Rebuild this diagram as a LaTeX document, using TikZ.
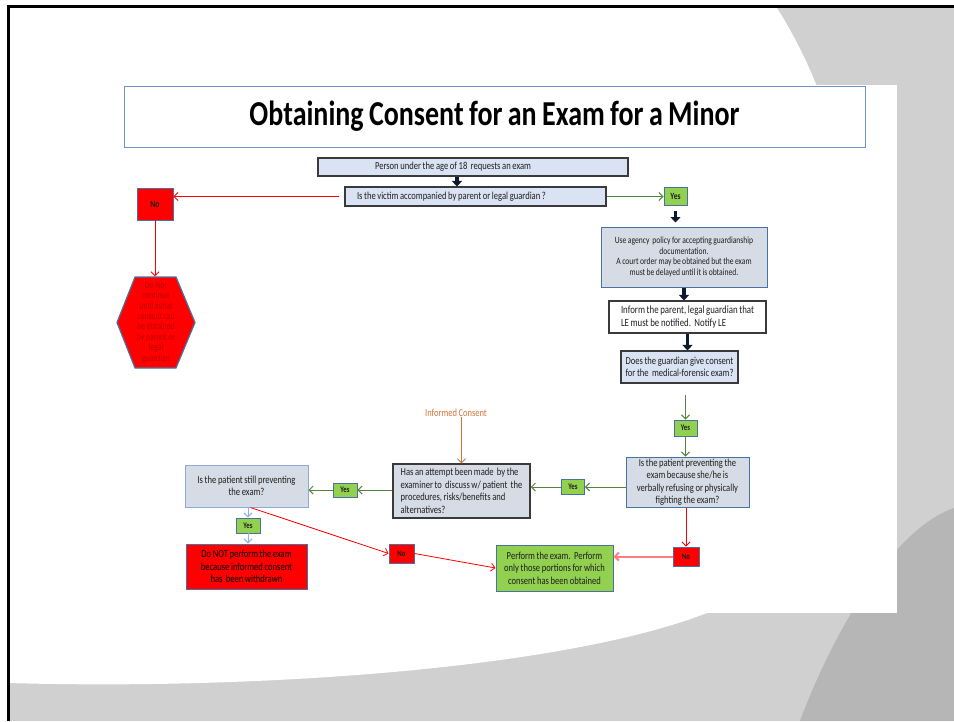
\documentclass[tikz,border=0pt]{standalone}
\usepackage{fontspec}
\setmainfont{Carlito}[FakeStretch=0.8, WordSpace=0.85]
\usetikzlibrary{arrows.meta}

\definecolor{greylight}{HTML}{D0D0D0}
\definecolor{greydark}{HTML}{B6B6B6}
\definecolor{inktext}{HTML}{1E1E1E}
\definecolor{palefill}{HTML}{DAE3F3}
\definecolor{slatefill}{HTML}{D6DCE5}
\definecolor{edgedark}{HTML}{3A3A3A}
\definecolor{edgeblue}{HTML}{4A72A0}
\definecolor{edgesky}{HTML}{8EAADB}
\definecolor{titleedge}{HTML}{6F92BF}
\definecolor{yesgreen}{HTML}{92D050}
\definecolor{nored}{HTML}{FF0000}
\definecolor{hextext}{HTML}{C00000}
\definecolor{linegreen}{HTML}{55853A}
\definecolor{linesky}{HTML}{8DB3E2}
\definecolor{linepink}{HTML}{FF7C80}
\definecolor{lineorange}{HTML}{D0743C}
\definecolor{blockink}{HTML}{0B1A2E}

\tikzset{
  flow/.style={rectangle, inner sep=0pt, text=inktext,
    font=\fontsize{10.7}{12.5}\selectfont},
  pale/.style={flow, fill=palefill, draw=edgedark, line width=1.1pt},
  slate/.style={flow, fill=slatefill, draw=edgeblue, line width=1pt},
  yesbox/.style={rectangle, inner sep=0pt, fill=yesgreen, draw=edgeblue,
    line width=0.9pt, text=inktext, font=\bfseries\fontsize{8.5}{9}\selectfont},
  nobox/.style={rectangle, inner sep=0pt, fill=nored, draw=edgeblue,
    line width=0.9pt, text=inktext, font=\bfseries\fontsize{8.5}{9}\selectfont},
  barb/.style={-{Straight Barb[length=4pt,width=8pt]}},
  greenln/.style={barb, draw=linegreen, line width=1pt},
  redln/.style={barb, draw=red, line width=0.8pt},
  skyln/.style={barb, draw=linesky, line width=1pt},
  blockarrow/.style={draw=blockink, line width=3.5pt,
    -{Triangle[length=5.5pt,width=10pt]}},
}

\begin{document}
\begin{tikzpicture}[x=1pt,y=-1pt]
\useasboundingbox (0,0) rectangle (954,721);

% slide background with its grey sweeps
\fill[white] (0,0) rectangle (954,721);
\fill[greylight] (8,8) rectangle (954,721);
\fill[white] (8,8) -- (777,8) .. controls (880,170) and (905,450) .. (707,613)
  .. controls (560,670) and (250,690) .. (8,683) -- cycle;
\fill[greydark] (954,508) .. controls (890,530) and (830,640) .. (800,721)
  -- (954,721) -- cycle;
\fill[white] (100,85) rectangle (897,613);
\draw[line width=3pt, black] (8.5,721) -- (8.5,6.5) -- (954,6.5);

% title
\node[rectangle, draw=titleedge, line width=1pt, fill=white,
  minimum width=741pt, minimum height=61pt, text=black,
  font=\bfseries\fontsize{35}{40}\selectfont] (title) at (494.5,116.5)
  {Obtaining Consent for an Exam for a Minor};

% top of the chart
\node[pale, minimum height=18pt, inner xsep=57pt, text width=196pt, align=flush left]
  (start) at (473,167) {Person under the age of 18\ \ requests an exam};
\node[pale, minimum height=19pt, inner xsep=12pt, text width=237pt, align=flush left]
  (accomp) at (475.5,196.5) {Is the victim accompanied by parent or legal guardian ?};

\node[nobox, minimum width=36pt, minimum height=32pt,
  font=\bfseries\fontsize{9.5}{10}\selectfont] (noA) at (155,204) {No};

% hexagon: stop sign
\fill[nored, draw=edgeblue, line width=1.2pt]
  (135,277) -- (176,277) -- (195,322.5) -- (176,368) -- (135,368) -- (117,322.5) -- cycle;
\node[rectangle, inner sep=0pt, minimum width=78pt, minimum height=92pt,
  text=hextext, align=center, font=\fontsize{9.7}{10.4}\selectfont]
  (hex) at (156,322.5)
  {Do Not\\continue\\until initial\\consent can\\be obtained\\by parent or\\legal\\guardian};

% right column
\node[yesbox, minimum width=23pt, minimum height=18pt,
  font=\bfseries\fontsize{9.5}{10}\selectfont] (yesA) at (675.5,196) {Yes};
\node[slate, minimum width=166pt, minimum height=60pt, align=center,
  font=\fontsize{9.5}{10.5}\selectfont] (policy) at (684,257)
  {Use agency\ \ policy for accepting guardianship\\documentation.\\
   A court order may be obtained but the exam\\must be delayed until it is obtained.};
\node[flow, fill=white, draw=edgedark, line width=1.1pt, minimum width=157pt,
  minimum height=32pt, align=left, font=\fontsize{11}{12.5}\selectfont]
  (inform) at (687.5,317)
  {Inform the parent, legal guardian that\\LE must be notified.\ \ Notify LE};
\node[pale, minimum width=117pt, minimum height=32pt, align=left]
  (guard) at (679.5,367)
  {Does the guardian give consent\\for the\ \ medical-forensic exam?};
\node[yesbox, minimum width=23pt, minimum height=16pt] (yesB) at (685.5,428) {Yes};
\node[slate, minimum width=123pt, minimum height=50pt, align=center]
  (patient) at (687.5,482)
  {Is the patient preventing the\\exam because she/he is\\
   verbally refusing or physically\\fighting the exam?};
\node[nobox, minimum width=26pt, minimum height=19pt] (noC) at (686,556.5) {No};

% middle and left
\node[yesbox, minimum width=23pt, minimum height=15pt] (yesC) at (573,487) {Yes};
\node[slate, draw=edgedark, line width=1.5pt, minimum width=137pt,
  minimum height=54pt, align=left] (attempt) at (461.5,491)
  {Has an attempt been made\ \ by the\\examiner to\ \ discuss w/ patient\ \ the\\
   procedures, risks/benefits and\\alternatives?};
\node[text=lineorange, inner sep=0pt, font=\fontsize{10.6}{12}\selectfont]
  (informed) at (456,413) {Informed Consent};
\node[yesbox, minimum width=24pt, minimum height=14pt] (yesD) at (345,490) {Yes};
\node[slate, draw=edgesky, minimum width=123pt, minimum height=42pt, align=center]
  (still) at (246.5,486) {Is the patient still preventing\\the exam?};
\node[yesbox, minimum width=24pt, minimum height=15pt] (yesE) at (248,525.5) {Yes};
\node[flow, fill=nored, draw=edgeblue, line width=1pt, text=black,
  minimum width=121pt, minimum height=45pt, align=center]
  (donot) at (246.5,566.5)
  {Do NOT perform the exam\\because informed consent\\has\ \ been withdrawn};
\node[nobox, minimum width=25pt, minimum height=19pt] (noB) at (401.5,553.5) {No};
\node[flow, fill=yesgreen, draw=edgeblue, line width=1pt,
  minimum width=117pt, minimum height=46pt, align=center]
  (perform) at (554.5,568)
  {Perform the exam.\ \ Perform\\only those portions for which\\consent has been obtained};

% connectors
\coordinate (k1) at ([xshift=-16pt]start.south);
\draw[blockarrow] (k1) -- (k1 |- accomp.north);
\draw[redln, shorten <=5pt] (accomp.west) -- (accomp.west -| noA.east);
\draw[redln] (noA.south) -- (noA.south |- hex.north);
\draw[greenln] (accomp.east) -- (accomp.east -| yesA.west);
\draw[blockarrow, shorten <=6pt, shorten >=4pt] (yesA.south) -- (yesA.south |- policy.north);
\draw[blockarrow] (policy.south) -- (policy.south |- inform.north);
\draw[blockarrow] (inform.south) -- (inform.south |- guard.north);
\draw[greenln, shorten <=11pt] (guard.south -| yesB.north) -- (yesB.north);
\draw[greenln] (yesB.south) -- (yesB.south |- patient.north);
\draw[greenln] (patient.west |- yesC.east) -- (yesC.east);
\draw[greenln] (yesC.west) -- (yesC.west -| attempt.east);
\draw[barb, draw=lineorange, line width=0.8pt] (attempt.north |- informed.south) -- (attempt.north);
\draw[greenln] (attempt.west |- yesD.east) -- (yesD.east);
\draw[greenln] (yesD.west) -- (yesD.west -| still.east);
\draw[skyln] (still.south -| yesE.north) -- (yesE.north);
\draw[skyln] (yesE.south) -- (yesE.south |- donot.north);
\coordinate (k2) at ([xshift=4pt]still.south);
\draw[redln] (k2) -- (noB.west);
\draw[redln] (noB.east) -- (perform.west);
\draw[redln] (patient.south -| noC.north) -- (noC.north);
\draw[barb, draw=linepink, line width=2pt] (noC.west) -- (noC.west -| perform.east);
\end{tikzpicture}
\end{document}
